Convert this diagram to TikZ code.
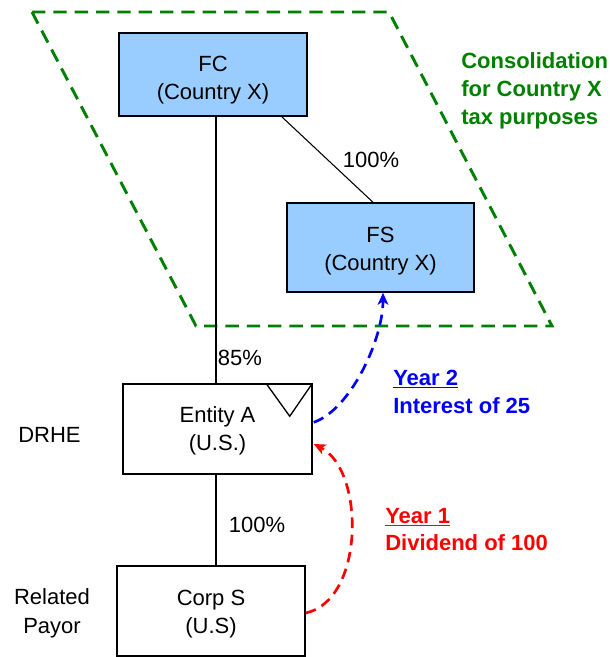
\documentclass[tikz,border=0pt]{standalone}
\usepackage{fontspec}
\setmainfont{Liberation Sans}
\usetikzlibrary{arrows.meta,calc}
\definecolor{boxblue}{HTML}{99CCFF}
\definecolor{consgreen}{HTML}{008000}
\definecolor{flowblue}{HTML}{0000FF}
\definecolor{flowred}{HTML}{FF0000}
\begin{document}
\begin{tikzpicture}[x=0.75pt,y=-0.75pt,
  font=\fontsize{16.5}{21}\selectfont,
  entity/.style={draw, line width=1.1pt, inner sep=0pt},
  foreign/.style={entity, fill=boxblue},
  boxtext/.style={align=center, inner sep=0pt},
  owner/.style={line width=0.8pt},
  pct/.style={inner sep=1pt},
  consline/.style={draw=consgreen, line width=2.2pt, dash pattern=on 10pt off 6pt},
  flow/.style={line width=2pt, dash pattern=on 8pt off 5pt, -{Stealth[length=9pt,width=8pt,inset=2.5pt]}},
  sidelabel/.style={align=left, anchor=west, inner sep=0pt},
  boldlabel/.style={sidelabel, anchor=base west, font=\fontsize{16.5}{21}\selectfont\bfseries}
]
\useasboundingbox (0,0) rectangle (610,657);
% consolidation parallelogram
\draw[consline] (32,12) -- (389,12) -- (552,326) -- (196,326) -- cycle;
% boxes
\node[foreign, minimum width=141pt, minimum height=62.25pt] (fc) at (213,74.5) {};
\node[foreign, minimum width=140.25pt, minimum height=66.75pt] (fs) at (380.5,247.5) {};
\node[entity, minimum width=141.75pt, minimum height=67.5pt] (ea) at (217.5,429) {};
\node[entity, minimum width=141pt, minimum height=67.5pt] (cs) at (211,611) {};
\node[boxtext] (fct) at ($(fc.center)+(0,6)$) {FC\\(Country X)};
\node[boxtext] (fst) at ($(fs.center)+(0,3.5)$) {FS\\(Country X)};
\node[boxtext] (eat) at ($(ea.center)+(0,1.5)$) {Entity A\\(U.S.)};
\node[boxtext] (cst) at ($(cs.center)+(0,3)$) {Corp S\\(U.S)};
% triangle marker
\draw[line width=1pt] ($(ea.north east)+(-46,1)$) -- ($(ea.north east)+(-1,1)$) -- ($(ea.north east)+(-23,33)$) -- cycle;
% ownership lines
\draw[owner] ($(fc.south east)+(-26,0)$) -- ($(fs.north)+(-7.5,0)$);
\draw[owner] ($(fc.south)+(3,0)$) -- ($(ea.north)+(-1.5,0)$);
\draw[owner] ($(ea.south)+(-1.5,0)$) -- ($(cs.north)+(5,0)$);
\node[pct] (p1) at (371,160) {100\%};
\node[pct] (p2) at (240,358) {85\%};
\node[pct] (p3) at (257,525) {100\%};
% side labels
\node[sidelabel] (drhe) at (18,435) {DRHE};
\node[align=center, inner sep=0pt] (rp) at (52,613) {Related\\[0.7pt]Payor};
\node[sidelabel, text=consgreen, font=\fontsize{16.5}{21}\selectfont\bfseries] (cons) at (461,91) {Consolidation\\for Country X\\tax purposes};
% flows
\draw[flow, draw=flowblue] ($(ea.north east)+(1,39)$) .. controls (350,410) and (383,340) .. ($(fs.south)+(2.5,0)$);
\draw[flow, draw=flowred] ($(cs.east)+(0,2)$) .. controls (365,600) and (365,470) .. ($(ea.east)+(1,15)$);
\node[boldlabel, text=flowblue] (y2) at (393,385) {\underline{Year 2}};
\node[boldlabel, text=flowblue] (i25) at (393,413) {Interest of 25};
\node[boldlabel, text=flowred] (y1) at (385,523) {\underline{Year 1}};
\node[boldlabel, text=flowred] (d100) at (385,550) {Dividend of 100};
\end{tikzpicture}
\end{document}
